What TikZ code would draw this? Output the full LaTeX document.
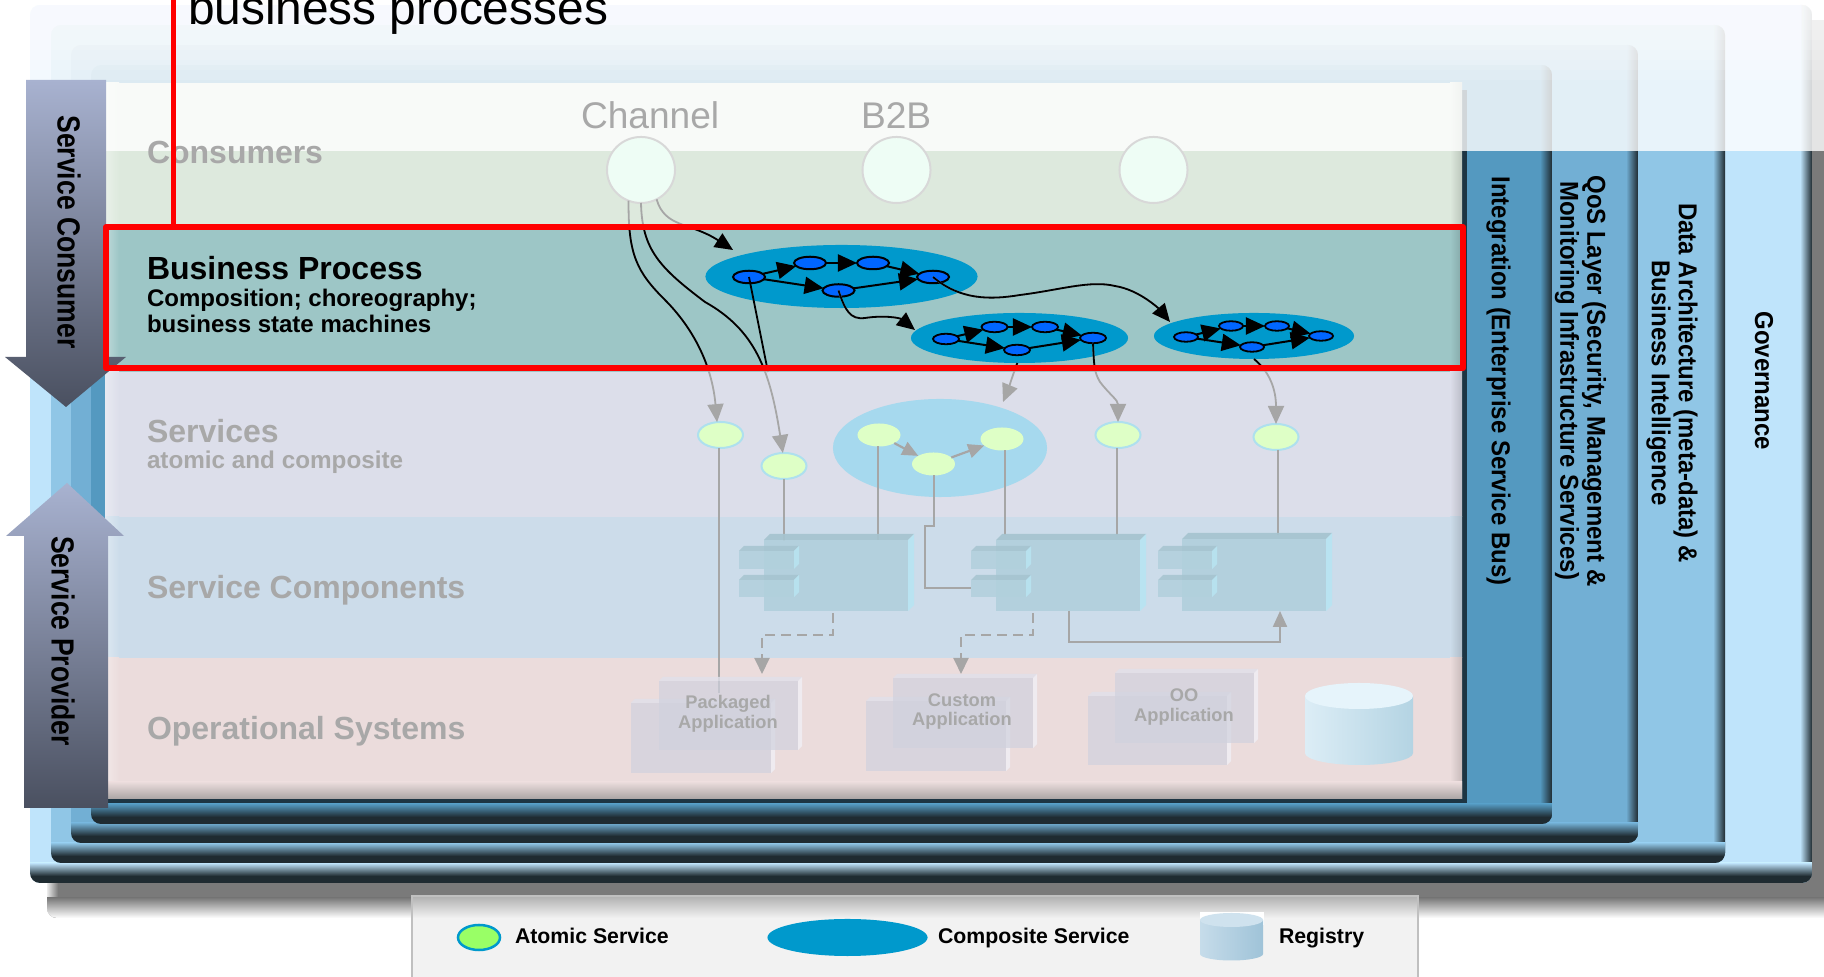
\documentclass[tikz,border=0pt]{standalone}
\usepackage{fontspec}
\setmainfont{Liberation Sans}
\usetikzlibrary{shapes.geometric,arrows.meta}
\definecolor{panA}{HTML}{BFE4FB}
\definecolor{panB}{HTML}{90C6E6}
\definecolor{panC}{HTML}{72AFD4}
\definecolor{panD}{HTML}{5499C0}
\definecolor{edge}{HTML}{1F2B31}
\definecolor{shad}{HTML}{7A7A7A}
\definecolor{laya}{HTML}{DDE9DD}
\definecolor{layb}{HTML}{9DC6C6}
\definecolor{layc}{HTML}{DCDEEA}
\definecolor{layd}{HTML}{CCDCEA}
\definecolor{laye}{HTML}{EBDCDC}
\definecolor{gtxt}{HTML}{A8A8A8}
\definecolor{gline}{HTML}{A6A6A6}
\definecolor{cblue}{HTML}{0099CC}
\definecolor{nblue}{HTML}{0066FF}
\definecolor{atomf}{HTML}{DEFFC6}
\definecolor{atomb}{HTML}{AEE0EE}
\definecolor{arrt}{HTML}{A8B2D0}
\definecolor{arrb}{HTML}{4A5060}
\definecolor{HTMLeefdf5}{HTML}{EEFDF5}
\definecolor{HTMLd8d8d8}{HTML}{D8D8D8}
\definecolor{HTMLa6c4cf}{HTML}{A6C4CF}
\definecolor{HTMLb8e4f2}{HTML}{B8E4F2}
\definecolor{HTMLb1d0dc}{HTML}{B1D0DC}
\definecolor{HTMLf2f2f2}{HTML}{F2F2F2}
\definecolor{HTMLb0b0b0}{HTML}{B0B0B0}
\definecolor{HTMLc0c0c0}{HTML}{C0C0C0}
\definecolor{HTMLaaa5a4}{HTML}{AAA5A4}
\definecolor{HTMLa6d9ee}{HTML}{A6D9EE}
\definecolor{HTMLdcedf6}{HTML}{DCEDF6}
\definecolor{HTMLb4d4e3}{HTML}{B4D4E3}
\definecolor{HTMLe6f4fb}{HTML}{E6F4FB}
\definecolor{HTML99ff66}{HTML}{99FF66}
\definecolor{HTMLc6dcea}{HTML}{C6DCEA}
\definecolor{HTML9fc3d8}{HTML}{9FC3D8}
\definecolor{HTMLcfe2ee}{HTML}{CFE2EE}
\definecolor{appf}{HTML}{D0D2DE}
\definecolor{appt}{HTML}{E0E0EA}
\definecolor{appr}{HTML}{F0EFF6}
\tikzset{
  ell/.style={ellipse,inner sep=0pt,outer sep=0pt},
  chan/.style={ell,fill=HTMLeefdf5,draw=HTMLd8d8d8,line width=.2mm,minimum width=6.8mm,minimum height=6.6mm},
  compos/.style={ell,fill=cblue},
  nodeA/.style={ell,fill=nblue,draw=black,line width=.2mm,minimum width=3.2mm,minimum height=1.25mm},
  nodeB/.style={ell,fill=nblue,draw=black,line width=.18mm,minimum width=2.6mm,minimum height=1.05mm},
  nodeC/.style={ell,fill=nblue,draw=black,line width=.18mm,minimum width=2.4mm,minimum height=.95mm},
  atom/.style={ell,fill=atomf,draw=atomb,line width=.2mm,minimum width=4.5mm,minimum height=2.6mm},
  inneratom/.style={ell,fill=atomf,minimum width=4.3mm,minimum height=2.3mm},
  intarrow/.style={draw=black,line width=.2mm,-{Triangle[length=1.9mm,width=1.7mm]}},
  conng/.style={draw=gline,line width=.18mm,-{Triangle[length=1.8mm,width=1.6mm]}},
  connb/.style={draw=black,line width=.18mm,-{Triangle[length=1.8mm,width=1.6mm]}},
  grayline/.style={draw=gline,line width=.2mm},
  grayarrow/.style={draw=gline,line width=.22mm,-{Triangle[length=1.6mm,width=1.4mm]}},
  dasharrow/.style={draw=gline,line width=.2mm,dash pattern=on 1mm off .6mm,-{Triangle[length=1.6mm,width=1.5mm]}},
  lab/.style={anchor=base west,inner sep=0pt,outer sep=0pt},
  bigg/.style={lab,text=gtxt,font=\fontsize{9.1}{11}\selectfont\bfseries},
  subb/.style={lab,text=black,font=\fontsize{6.83}{8}\selectfont\bfseries},
  sidelab/.style={inner sep=0pt,outer sep=0pt,align=center,rotate=-90,xscale=.925,font=\fontsize{7.37}{7.68}\selectfont\bfseries},
  arrlab/.style={inner sep=0pt,outer sep=0pt,rotate=-90,xscale=.83,font=\fontsize{9.1}{11}\selectfont\bfseries},
  apptxt/.style={inner sep=0pt,outer sep=0pt,anchor=center,text=gtxt,font=\fontsize{5.2}{6}\selectfont\bfseries},
  legtxt/.style={inner sep=0pt,outer sep=0pt,anchor=base west,font=\fontsize{6.05}{7}\selectfont\bfseries},
}
\newcommand\panelbox[5]{%
  \begin{scope}
    \clip[rounded corners=1mm] (#1,#2) rectangle (#3,#4);
    \fill[#5] (#1,#2) rectangle (#3,#4);
    \shade[left color=#5,right color=edge] ({#3-12},#2) rectangle (#3,#4);
    \shade[top color=#5,bottom color=edge] (#1,{#4-20}) rectangle (#3,{#4-7});
    \fill[edge] (#1,{#4-7}) rectangle (#3,#4);
  \end{scope}}
\newcommand\layerbox[3]{%
  \fill[#3] (105,#1) rectangle (1462,#2);
  \shade[left color=#3!65!white,right color=#3] (105,#1) rectangle (119,#2);
  \shade[left color=#3,right color=#3!85!black] (1450,#1) rectangle (1462,#2);}
\newcommand\blockbox[6]{% x0 x1 y0 y1 depth opacity
  \fill[HTMLa6c4cf,opacity=#6] (#1,#3) -- ({#1+#5},{#3-#5}) -- ({#2+#5},{#3-#5}) -- (#2,#3) -- cycle;
  \fill[HTMLb8e4f2,opacity=#6] (#2,#3) -- ({#2+#5},{#3-#5}) -- ({#2+#5},{#4-#5}) -- (#2,#4) -- cycle;
  \fill[HTMLb1d0dc,opacity=#6] (#1,#3) rectangle (#2,#4);}
\newcommand\component[6]{% name bodyx0 bodyx1 tabx0 tabx1 ytop
  \blockbox{#2}{#3}{#6}{611}{6}{.92}
  \coordinate (#1) at (#2,#6);
  \blockbox{#4}{#5}{551}{569}{5}{.85}
  \blockbox{#4}{#5}{580}{597}{5}{.85}}
\newcommand\appbox[4]{% x0 y0 x1 y1
  \fill[appt,opacity=.8] (#1,#2) -- ({#1+4},{#2-4}) -- ({#3+4},{#2-4}) -- (#3,#2) -- cycle;
  \fill[appr,opacity=.8] (#3,#2) -- ({#3+4},{#2-4}) -- ({#3+4},{#4-4}) -- (#3,#4) -- cycle;
  \fill[appf,opacity=.7] (#1,#2) rectangle (#3,#4);}
\newcommand\twotone[1]{%
  \draw[conng] #1;
  \begin{scope}
    \clip (bizNW) rectangle (bizSE);
    \draw[connb] #1;
  \end{scope}}
\begin{document}
\begin{tikzpicture}[x=0.01cm,y=-0.01cm]
\useasboundingbox (0,0) rectangle (1824,977);
\fill[white] (0,0) rectangle (1824,977);
% shadow
\begin{scope}
  \clip[rounded corners=1mm] (47,20) rectangle (1835,918);
  \fill[shad] (47,20) rectangle (1835,918);
  \shade[left color=white,right color=shad] (45,20) rectangle (58,918);
  \shade[top color=shad,bottom color=white] (45,898) rectangle (1835,918);
\end{scope}
% legend
\fill[HTMLf2f2f2] (412,896) rectangle (1418,977);
\shade[top color=HTMLb0b0b0,bottom color=HTMLf2f2f2] (412,896) rectangle (1418,918);
\draw[HTMLc0c0c0,line width=.2mm] (412,977) -- (412,896) -- (1418,896) -- (1418,977);
% panels
\panelbox{30}{5}{1812}{883}{panA}
\panelbox{51}{25}{1725}{863}{panB}
\panelbox{71}{45}{1638}{843}{panC}
\panelbox{91}{65}{1552}{824}{panD}
% main box
\fill[black,opacity=.65] (105,90) rectangle (1467,803);
\layerbox{83}{228}{laya}
\layerbox{228}{372}{layb}
\layerbox{372}{517}{layc}
\layerbox{517}{658}{layd}
\layerbox{658}{799}{laye}
\shade[top color=laye,bottom color=HTMLaaa5a4] (105,782) rectangle (1462,799);
% overlay
\fill[white,opacity=.8] (0,0) rectangle (1824,151);
\foreach \yy in {10,20,...,80} \fill[white,opacity=.12] (0,0) rectangle (1824,\yy);
% named free ends
\coordinate (bizNW) at (106,227);
\coordinate (bizSE) at (1463,368);
\coordinate (rvtop) at (173,0);
\coordinate (rvbot) at (173,227);
\coordinate (T1) at (733,250);
\coordinate (T2) at (915,330);
\coordinate (T3) at (1170,322);
\coordinate (T4) at (1003,402);
\coordinate (J1) at (768,372);
% left arrows
\shade[top color=arrt,bottom color=arrb] (26,80) -- (106,80) -- (106,357) -- (126,357) -- (66,407) -- (5,357) -- (26,357) -- cycle;
\shade[top color=arrt,bottom color=arrb] (67,483) -- (124,536) -- (108,536) -- (108,808) -- (24,808) -- (24,536) -- (6,536) -- cycle;
\node[arrlab] (consumerlab) at (69,232) {Service Consumer};
\node[arrlab] (providerlab) at (63,641) {Service Provider};
% side labels
\node[sidelab] (intlab) at (1498.5,381) {Integration (Enterprise Service Bus)};
\node[sidelab] (qoslab) at (1580.5,381) {QoS Layer (Security, Management \&\\Monitoring Infrastructure Services)};
\node[sidelab] (datalab) at (1672,383) {Data Architecture (meta-data) \&\\Business Intelligence};
\node[sidelab] (govlab) at (1764,381) {Governance};
% layer labels
\node[bigg] (consl) at (147,164) {Consumers};
\node[lab,font=\fontsize{9.1}{11}\selectfont\bfseries] (bizl) at (147,280) {Business Process};
\node[subb] (bizs1) at (147,307) {Composition; choreography;};
\node[subb] (bizs2) at (147,333) {business state machines};
\node[bigg] (servl) at (147,443) {Services};
\node[bigg,font=\fontsize{6.9}{8}\selectfont\bfseries] (servs) at (147,469) {atomic and composite};
\node[bigg] (compl) at (147,599) {Service Components};
\node[bigg] (opl) at (147,740) {Operational Systems};
% channel
\node[lab,text=gtxt,font=\fontsize{10.55}{12}\selectfont] (chl) at (581,129) {Channel};
\node[lab,text=gtxt,font=\fontsize{10.55}{12}\selectfont] (b2bl) at (861,129) {B2B};
\node[chan] (ch1) at (641,170) {};
\node[chan] (ch2) at (896.5,170) {};
\node[chan] (ch3) at (1153.5,170) {};
% composite ellipses
\node[compos,minimum width=27.2mm,minimum height=6.3mm] (comp1) at (841.5,276.5) {};
\node[compos,minimum width=21.7mm,minimum height=5mm] (comp2) at (1019.5,338) {};
\node[compos,minimum width=20mm,minimum height=4.6mm] (comp3) at (1254,336) {};
\node[nodeA] (n1a) at (749,277) {};
\node[nodeA] (n1b) at (810,263) {};
\node[nodeA] (n1c) at (873,263) {};
\node[nodeA] (n1d) at (933,277) {};
\node[nodeA] (n1e) at (838.5,290.5) {};
\node[nodeB] (n2a) at (946,339) {};
\node[nodeB] (n2b) at (994.5,327) {};
\node[nodeB] (n2c) at (1045,327) {};
\node[nodeB] (n2d) at (1093,338) {};
\node[nodeB] (n2e) at (1017,350) {};
\node[nodeC] (n3a) at (1186,337) {};
\node[nodeC] (n3b) at (1231,326) {};
\node[nodeC] (n3c) at (1277,326) {};
\node[nodeC] (n3d) at (1321,336) {};
\node[nodeC] (n3e) at (1252,347) {};
\foreach \k in {1,2,3}{
  \draw[intarrow] (n\k a) -- (n\k b);
  \draw[intarrow] (n\k b) -- (n\k c);
  \draw[intarrow] (n\k c) -- (n\k d);
  \draw[intarrow] (n\k a) -- (n\k e);
  \draw[intarrow] (n\k e) -- (n\k d);
}
% services
\node[ell,fill=HTMLa6d9ee,minimum width=21.4mm,minimum height=9.8mm] (svcgroup) at (940,448) {};
\node[atom] (s1) at (720.5,435) {};
\node[atom] (s2) at (784,466) {};
\node[atom] (s3) at (1118,435) {};
\node[atom] (s4) at (1276,437) {};
\node[inneratom] (p1) at (879,435) {};
\node[inneratom] (p2) at (933.5,464) {};
\node[inneratom] (p3) at (1002,439) {};
\draw[grayarrow] (p1) -- (p2);
\draw[grayarrow] (p2) -- (p3);
% connectors across the business-process band
\twotone{(ch1.-112) .. controls (628,255) and (637,272) .. (665,300) .. controls (693,328) and (712,365) .. (s1.105)}
\twotone{(ch1.south) .. controls (642,250) and (660,268) .. (705,302) .. controls (755,330) and (770,370) .. (s2.95)}
\twotone{(ch1.-62) .. controls (665,228) and (690,222) .. (T1)}
\begin{scope}
  \clip (bizNW) rectangle (bizSE);
  \draw[black,line width=.18mm] (n1a.center) -- (J1);
\end{scope}
\draw[gline,line width=.2mm] (766,366) -- (J1);
\twotone{(n1e.center) .. controls (845,310) and (850,320) .. (865,318) .. controls (885,315) and (900,318) .. (T2)}
\twotone{(n1d.center) .. controls (960,300) and (990,300) .. (1020,295) .. controls (1060,290) and (1090,280) .. (1115,286) .. controls (1140,290) and (1160,310) .. (T3)}
\twotone{(n2d.south) .. controls (1094,365) and (1094,372) .. (1100,382) .. controls (1110,395) and (1118,400) .. (s3.north)}
\twotone{(comp3.south) .. controls (1270,372) and (1276,390) .. (s4.north)}
\twotone{(comp2.-95) .. controls (1011,380) and (1008,390) .. (T4)}
% vertical links
\coordinate (pkgEnd) at (719,693);
\coordinate (c1a) at (783.5,541);
\coordinate (c1b) at (877.5,540);
\coordinate (c2a) at (1005,535);
\coordinate (c2b) at (1117,535);
\coordinate (c3a) at (1277.5,535);
\coordinate (k1) at (933.5,526);
\coordinate (k2) at (924.5,526);
\coordinate (k3) at (924.5,588);
\coordinate (k4) at (971,588);
\draw[grayline] (s1.south -| pkgEnd) -- (pkgEnd);
\draw[grayline] (s2.south -| c1a) -- (c1a);
\draw[grayline] (p1.south -| c1b) -- (c1b);
\draw[grayline] (p2.south) -- (k1) -- (k2) -- (k3) -- (k4);
\draw[grayline] (p3.south -| c2a) -- (c2a);
\draw[grayline] (s3.south -| c2b) -- (c2b);
\draw[grayline] (s4.south -| c3a) -- (c3a);
% components
\component{compA}{764}{908}{739}{794}{540}
\component{compB}{996}{1140}{971}{1026}{540}
\component{compC}{1182}{1326}{1158}{1212}{539}
% component connectors
\coordinate (dA1) at (833,613);
\coordinate (dA2) at (833,635);
\coordinate (dA3) at (762,635);
\coordinate (dA4) at (762,674);
\coordinate (dB1) at (1033,613);
\coordinate (dB2) at (1033,635);
\coordinate (dB3) at (961,635);
\coordinate (dB4) at (961,674);
\coordinate (sB1) at (1069,611);
\coordinate (sB2) at (1069,642);
\coordinate (sB3) at (1280,642);
\coordinate (sB4) at (1280,611);
\draw[dasharrow] (dA1) -- (dA2) -- (dA3) -- (dA4);
\draw[dasharrow] (dB1) -- (dB2) -- (dB3) -- (dB4);
\draw[grayarrow] (sB1) -- (sB2) -- (sB3) -- (sB4);
% applications
\appbox{631}{703}{771}{773}
\appbox{659}{681}{798}{750}
\appbox{866}{701}{1006}{771}
\appbox{893}{678}{1033}{748}
\appbox{1088}{696}{1227}{765}
\appbox{1115}{673}{1254}{743}
\node[apptxt] (pk1) at (728,704) {Packaged};
\node[apptxt] (pk2) at (728,724) {Application};
\node[apptxt] (cu1) at (962,700) {Custom};
\node[apptxt] (cu2) at (962,721) {Application};
\node[apptxt] (oo1) at (1184,695) {OO};
\node[apptxt] (oo2) at (1184,717) {Application};
% registry
\shade[left color=HTMLdcedf6,right color=HTMLb4d4e3] (1305,696) -- (1305,753) arc[start angle=180,end angle=360,x radius=5.4mm,y radius=1.2mm] -- (1413,696) -- cycle;
\node[ell,fill=HTMLe6f4fb,minimum width=10.8mm,minimum height=2.6mm] (regtop) at (1359,696) {};
% legend items
\node[ell,fill=HTML99ff66,draw=cblue,line width=.25mm,minimum width=4.2mm,minimum height=2.5mm] (legA) at (479,937.5) {};
\node[legtxt] (legAt) at (515,944) {Atomic Service};
\node[compos,minimum width=16mm,minimum height=3.7mm] (legC) at (847.5,937.5) {};
\node[legtxt] (legCt) at (938,944) {Composite Service};
\fill[white] (1200,912) rectangle (1264,925);
\shade[left color=HTMLc6dcea,right color=HTML9fc3d8] (1200,920) -- (1200,954) arc[start angle=180,end angle=360,x radius=3.15mm,y radius=.65mm] -- (1263,920) -- cycle;
\node[ell,fill=HTMLcfe2ee,minimum width=6.3mm,minimum height=1.4mm] (legRtop) at (1231.5,920) {};
\node[legtxt] (legRt) at (1279,944) {Registry};
% red box
\draw[red,line width=.6mm,line join=round] (bizNW) rectangle (bizSE);
\draw[red,line width=.5mm] (rvtop) -- (rvbot);
\node[lab,font=\fontsize{13.6}{16}\selectfont] (titl) at (188,25) {business processes};
\end{tikzpicture}
\end{document}
